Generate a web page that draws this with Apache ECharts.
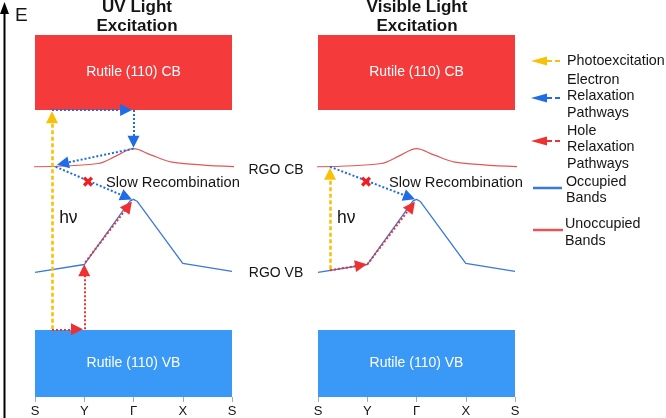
<!DOCTYPE html>
<html><head><meta charset="utf-8">
<script src="https://cdn.jsdelivr.net/npm/echarts@6/dist/echarts.min.js"></script>
<style>html,body{margin:0;padding:0;background:#fff}#c{width:666px;height:418px}</style>
</head><body><div id="c"></div>
<script>
// ---- data (k-path position, energy in arbitrary units) ----
const kLabels = ['S', 'Y', 'Γ', 'X', 'S'];
const panelTitles = ['UV Light\nExcitation', 'Visible Light\nExcitation'];
const rutileCB = [79.3, 100];      // energy range of Rutile (110) CB box
const rutileVB = [0, 18.5];        // energy range of Rutile (110) VB box
const rgoCB = [[-0.06, 63.6], [1.28, 64.5], [1.65, 66.6], [2.0, 68.6], [2.35, 66.9], [2.78, 64.9], [4.14, 63.6]];
const rgoVB = [[0, 34.4], [1, 36.6], [1.93, 54.2], [2.0, 54.6], [2.08, 54.0], [3, 36.9], [4, 34.7]];
// arrows [[from],[to]]
const uvPhoto = [[[0.345, 18.7], [0.345, 77.3]]];
const uvElectron = [
  [[0.345, 79.3], [1.85, 79.3]],
  [[2.0, 79.3], [2.0, 70.5]],
  [[2.0, 68.6], [0.566, 64.5]],
  [[0.42, 63.6], [1.858, 55.2]]
];
const uvHole = [
  [[0.345, 18.7], [0.853, 18.7]],
  [[1.0, 18.7], [1.0, 35.0]],
  [[1.02, 37.2], [1.894, 52.7]]
];
const visPhoto = [[[0.245, 35.3], [0.245, 61.7]]];
const visElectron = [[[0.245, 63.6], [1.856, 55.2]]];
const visHole = [
  [[0.245, 35.0], [0.873, 36.4]],
  [[1.0, 36.6], [1.896, 52.7]]
];
const uvCross = [[1.076, 59.5]];
const visCross = [[0.975, 59.5]];
const uvNotes = [[1.44, 59.2, 'Slow Recombination'], [0.49, 49.3, 'hν']];
const visNotes = [[1.44, 59.2, 'Slow Recombination'], [0.386, 49.3, 'hν']];
const bandLabels = ['RGO CB', 'RGO VB'];
const legendNames = ['Photoexcitation', 'Electron\nRelaxation\nPathways', 'Hole\nRelaxation\nPathways', 'Occupied\nBands', 'Unoccupied\nBands'];

// ---- styles ----
const FONT = '"Liberation Sans", Arial, sans-serif';
const RED_BOX = '#f43a3a', BLUE_BOX = '#3a98f7';
const YELLOW = '#f7c10a', EBLUE = '#1f6ce6', HRED = '#ee3030';
const VB_LINE = '#3a78db', CB_LINE = '#e45656';
const TEXT = '#151515';

const panels = [
  {photo: uvPhoto, electron: uvElectron, hole: uvHole, cross: uvCross, notes: uvNotes},
  {photo: visPhoto, electron: visElectron, hole: visHole, cross: visCross, notes: visNotes}
];

const grids = [
  {left: 35, top: 35, width: 197, height: 363},
  {left: 318, top: 35, width: 197, height: 363}
];
const xAxes = grids.map((g, i) => ({
  type: 'value', gridIndex: i, min: 0, max: 4, interval: 1,
  axisLine: {show: false}, splitLine: {show: false},
  axisTick: {show: true, length: 5, lineStyle: {color: '#aaa'}},
  axisLabel: {formatter: v => kLabels[v], fontSize: 13, color: TEXT, margin: 8, fontFamily: FONT}
}));
const yAxes = grids.map((g, i) => ({type: 'value', gridIndex: i, min: 0, max: 100, show: false}));

function arrowSeries(i, data, color, dash, width, z) {
  return {
    type: 'lines', coordinateSystem: 'cartesian2d', xAxisIndex: i, yAxisIndex: i, z: z,
    symbol: ['none', 'triangle'], symbolSize: 12, silent: true,
    lineStyle: {color: color, width: width, type: dash, opacity: 1},
    data: data.map(c => ({coords: c}))
  };
}

const series = [];
panels.forEach((p, i) => {
  series.push({
    type: 'line', xAxisIndex: i, yAxisIndex: i, data: rgoCB, smooth: 0.35, symbol: 'none', clip: false,
    silent: true, z: 3, lineStyle: {color: CB_LINE, width: 1.2},
    markArea: {
      silent: true,
      label: {show: true, position: 'inside', color: '#fff', fontSize: 14, fontFamily: FONT},
      data: [
        [{name: 'Rutile (110) CB', xAxis: 0, yAxis: rutileCB[0], itemStyle: {color: RED_BOX, opacity: 1}}, {xAxis: 4, yAxis: rutileCB[1]}],
        [{name: 'Rutile (110) VB', xAxis: 0, yAxis: rutileVB[0], itemStyle: {color: BLUE_BOX, opacity: 1}}, {xAxis: 4, yAxis: rutileVB[1]}]
      ]
    }
  });
  series.push({
    type: 'line', xAxisIndex: i, yAxisIndex: i, data: rgoVB, symbol: 'none', clip: false,
    silent: true, z: 3, lineStyle: {color: VB_LINE, width: 1.3}
  });
  series.push(arrowSeries(i, p.photo, YELLOW, [4, 2.5], 2.6, 5));
  series.push(arrowSeries(i, p.electron, EBLUE, [2, 2], 2, 6));
  series.push(arrowSeries(i, p.hole, HRED, [2, 2], 2, 6));
  series.push({
    type: 'scatter', xAxisIndex: i, yAxisIndex: i, z: 7, silent: true,
    symbol: 'path://M3.5,0h3v3.5h3.5v3h-3.5v3.5h-3v-3.5h-3.5v-3h3.5z', symbolSize: 11, symbolRotate: 45,
    itemStyle: {color: '#ee2020', opacity: 1}, data: p.cross
  });
  series.push({
    type: 'scatter', xAxisIndex: i, yAxisIndex: i, z: 7, silent: true, symbolSize: 0,
    itemStyle: {opacity: 1},
    data: p.notes.map(n => ({value: n, label: {fontSize: n[2] === 'hν' ? 17.5 : 14.7}})),
    label: {show: true, position: 'inside', align: 'left', verticalAlign: 'middle', opacity: 1,
      formatter: d => d.value[2], fontSize: 14.7, color: TEXT, fontFamily: FONT}
  });
});

// ---- decorations (titles, energy axis, band labels, legend) ----
const graphic = [];
graphic.push({type: 'line', shape: {x1: 4.5, y1: 418, x2: 4.5, y2: 10}, style: {stroke: '#000', lineWidth: 2}});
graphic.push({type: 'polygon', shape: {points: [[4.5, 2], [0, 14], [9, 14]]}, style: {fill: '#000'}});
graphic.push({type: 'text', x: 15, y: 16, style: {text: 'E', fontSize: 19, fontFamily: FONT, fill: TEXT, align: 'left', verticalAlign: 'middle'}});
[137, 417].forEach((cx, i) => graphic.push({type: 'text', x: cx, y: 17, style: {
  text: panelTitles[i], fontSize: 17, fontWeight: 'bold', lineHeight: 19, fontFamily: FONT, fill: TEXT, align: 'center', verticalAlign: 'middle'}}));
[[276, 170], [276, 273]].forEach((pt, i) => graphic.push({type: 'text', x: pt[0], y: pt[1], style: {
  text: bandLabels[i], fontSize: 14, fontFamily: FONT, fill: TEXT, align: 'center', verticalAlign: 'middle'}}));
const legArrows = [[61, YELLOW], [98, EBLUE], [141, HRED]];
legArrows.forEach(a => {
  graphic.push({type: 'polygon', shape: {points: [[531, a[0]], [547, a[0] - 4.5], [547, a[0] + 4.5]]}, style: {fill: a[1]}});
  graphic.push({type: 'line', shape: {x1: 547, y1: a[0], x2: 563, y2: a[0]}, style: {stroke: a[1], lineWidth: 2, lineDash: [5, 3]}});
});
graphic.push({type: 'line', shape: {x1: 533, y1: 188, x2: 562, y2: 188}, style: {stroke: VB_LINE, lineWidth: 2.5}});
graphic.push({type: 'line', shape: {x1: 533, y1: 230, x2: 563, y2: 230}, style: {stroke: CB_LINE, lineWidth: 2.5}});
const legText = [[567, 61], [567, 96.5], [567, 147.5], [566, 190], [565, 232.5]];
legText.forEach((pt, i) => graphic.push({type: 'text', x: pt[0], y: pt[1], style: {
  text: legendNames[i], fontSize: 14.3, lineHeight: 16.5, fontFamily: FONT, fill: TEXT, align: 'left', verticalAlign: 'middle'}}));

const chart = echarts.init(document.getElementById('c'));
chart.setOption({
  animation: false, backgroundColor: '#fff',
  grid: grids, xAxis: xAxes, yAxis: yAxes, series: series, graphic: graphic
});
</script></body></html>
